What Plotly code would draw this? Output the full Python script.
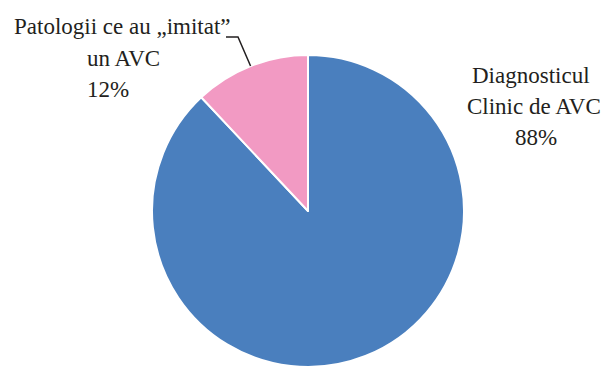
import math
import plotly.graph_objects as go

# Share of cases: confirmed clinical stroke diagnosis vs. stroke mimics
labels = ["Diagnosticul<br>Clinic de AVC", "Patologii ce au „imitat”<br>un AVC"]
values = [88, 12]
colors = ["#4A7FBE", "#F29AC3"]

W, H = 608, 367
CX, CY, R = 308, 211, 156  # pie centre / radius in pixels

def px(x):
    return x / W

def py(y):
    return 1 - y / H

total = sum(values)
pcts = [round(v / total * 100) for v in values]

fig = go.Figure(go.Pie(
    labels=labels,
    values=values,
    sort=False,
    direction="clockwise",
    rotation=0,
    marker=dict(colors=colors, line=dict(color="white", width=2)),
    textinfo="none",
    hoverinfo="label+percent",
    domain=dict(x=[px(CX - R), px(CX + R)], y=[0, (2 * R) / H]),
    showlegend=False,
))


def add_line(text, x, y):
    fig.add_annotation(
        x=px(x), y=py(y), xref="paper", yref="paper",
        text=text, showarrow=False,
        font=dict(family="Times New Roman", size=23),
        xanchor="center", yanchor="middle",
    )


# Right-hand label for the large slice, one annotation per line
right_lines = labels[0].split("<br>") + [f"{pcts[0]}%"]
for text, x, y in zip(right_lines, [531, 534, 536], [76, 106, 137]):
    add_line(text, x, y)

# Left-hand label for the small slice
left_lines = labels[1].split("<br>") + [f"{pcts[1]}%"]
for text, x, y in zip(left_lines, [122, 123, 108], [26, 58, 89]):
    add_line(text, x, y)

# Leader line from the middle of the small slice to its label
start_deg = values[0] / total * 360
mid_deg = start_deg + values[1] / total * 360 / 2
theta = math.radians(mid_deg)
ex = CX + R * math.sin(theta)
ey = CY - R * math.cos(theta)
fig.add_shape(
    type="path", xref="paper", yref="paper",
    path=f"M {px(ex)} {py(ey)} L {px(238)} {py(37)} L {px(226)} {py(37)}",
    line=dict(color="#231F20", width=1.5),
)

fig.update_layout(
    width=W, height=H,
    margin=dict(l=0, r=0, t=0, b=0),
    paper_bgcolor="white",
    plot_bgcolor="white",
    font=dict(color="#231F20"),
)

fig.write_html("out.html")
